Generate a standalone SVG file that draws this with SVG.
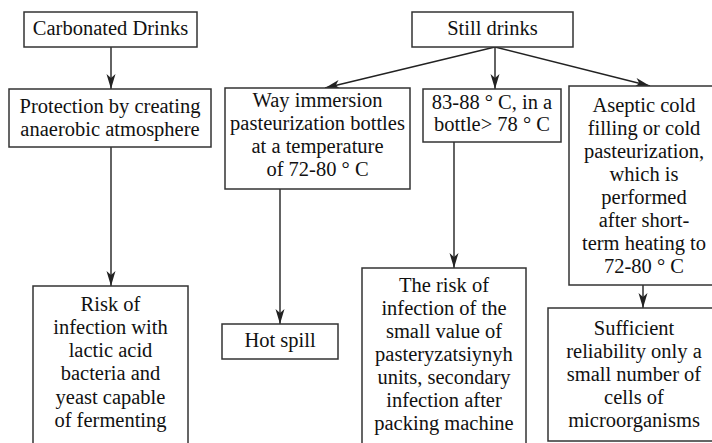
<svg xmlns="http://www.w3.org/2000/svg" width="712" height="443" viewBox="0 0 712 443">
<style>
.box{fill:#fff;stroke:#333;stroke-width:1.5}
.t{font-family:'Liberation Serif','Times New Roman',serif;font-size:20.5px;fill:#111;text-anchor:middle}
.c{fill:none;stroke:#222;stroke-width:1.4}
</style>
<defs>
<marker id="ah" markerUnits="userSpaceOnUse" markerWidth="16" markerHeight="10" refX="15" refY="5" orient="auto">
<path d="M0,0.5 L15,5 L0,9.5 L4,5 z" fill="#222"/>
</marker>
</defs>
<rect width="712" height="443" fill="#fff"/>
<g id="connectors">
<line class="c" x1="111" y1="47" x2="111" y2="89" marker-end="url(#ah)"/>
<line class="c" x1="111" y1="147" x2="111" y2="286" marker-end="url(#ah)"/>
<line class="c" x1="495" y1="47" x2="325" y2="88" marker-end="url(#ah)"/>
<line class="c" x1="495" y1="47" x2="495" y2="89" marker-end="url(#ah)"/>
<line class="c" x1="495" y1="47" x2="650" y2="86" marker-end="url(#ah)"/>
<line class="c" x1="280" y1="189" x2="280" y2="324" marker-end="url(#ah)"/>
<line class="c" x1="454" y1="142" x2="454" y2="268" marker-end="url(#ah)"/>
<line class="c" x1="643" y1="285" x2="643" y2="308" marker-end="url(#ah)"/>
</g>
<g id="carbonated">
<rect class="box" x="24" y="12" width="173" height="35"/>
<text class="t" x="110.5" y="35">Carbonated Drinks</text>
</g>
<g id="still">
<rect class="box" x="412" y="12" width="161" height="35"/>
<text class="t" x="492.5" y="35">Still drinks</text>
</g>
<g id="protection">
<rect class="box" x="9" y="89" width="202" height="58"/>
<text class="t" x="110" y="113">Protection by creating</text>
<text class="t" x="110" y="136">anaerobic atmosphere</text>
</g>
<g id="immersion">
<rect class="box" x="225" y="88" width="185" height="101"/>
<text class="t" x="317.5" y="107">Way immersion</text>
<text class="t" x="317.5" y="130">pasteurization bottles</text>
<text class="t" x="317.5" y="153">at a temperature</text>
<text class="t" x="317.5" y="176">of 72-80 ° C</text>
</g>
<g id="bottle">
<rect class="box" x="423" y="89" width="138" height="53"/>
<text class="t" x="492" y="108.5">83-88 ° C, in a</text>
<text class="t" x="492" y="131">bottle&gt; 78 ° C</text>
</g>
<g id="aseptic">
<rect class="box" x="569" y="86" width="150" height="199"/>
<text class="t" x="644" y="112">Aseptic cold</text>
<text class="t" x="644" y="135">filling or cold</text>
<text class="t" x="644" y="158">pasteurization,</text>
<text class="t" x="644" y="181">which is</text>
<text class="t" x="644" y="204">performed</text>
<text class="t" x="644" y="227">after short-</text>
<text class="t" x="644" y="250">term heating to</text>
<text class="t" x="644" y="273">72-80 ° C</text>
</g>
<g id="risk">
<rect class="box" x="33" y="286" width="155" height="170"/>
<text class="t" x="110.5" y="311">Risk of</text>
<text class="t" x="110.5" y="334">infection with</text>
<text class="t" x="110.5" y="357">lactic acid</text>
<text class="t" x="110.5" y="380">bacteria and</text>
<text class="t" x="110.5" y="404">yeast capable</text>
<text class="t" x="110.5" y="427">of fermenting</text>
</g>
<g id="hotspill">
<rect class="box" x="222" y="324" width="116" height="35"/>
<text class="t" x="280" y="347">Hot spill</text>
</g>
<g id="risk2">
<rect class="box" x="362" y="268" width="164" height="190"/>
<text class="t" x="444" y="292">The risk of</text>
<text class="t" x="444" y="315">infection of the</text>
<text class="t" x="444" y="338">small value of</text>
<text class="t" x="444" y="361">pasteryzatsiynyh</text>
<text class="t" x="444" y="384">units, secondary</text>
<text class="t" x="444" y="407">infection after</text>
<text class="t" x="444" y="430">packing machine</text>
</g>
<g id="sufficient">
<rect class="box" x="548" y="308" width="172" height="133"/>
<text class="t" x="634" y="335">Sufficient</text>
<text class="t" x="634" y="358">reliability only a</text>
<text class="t" x="634" y="381">small number of</text>
<text class="t" x="634" y="404">cells of</text>
<text class="t" x="634" y="427">microorganisms</text>
</g>
</svg>
